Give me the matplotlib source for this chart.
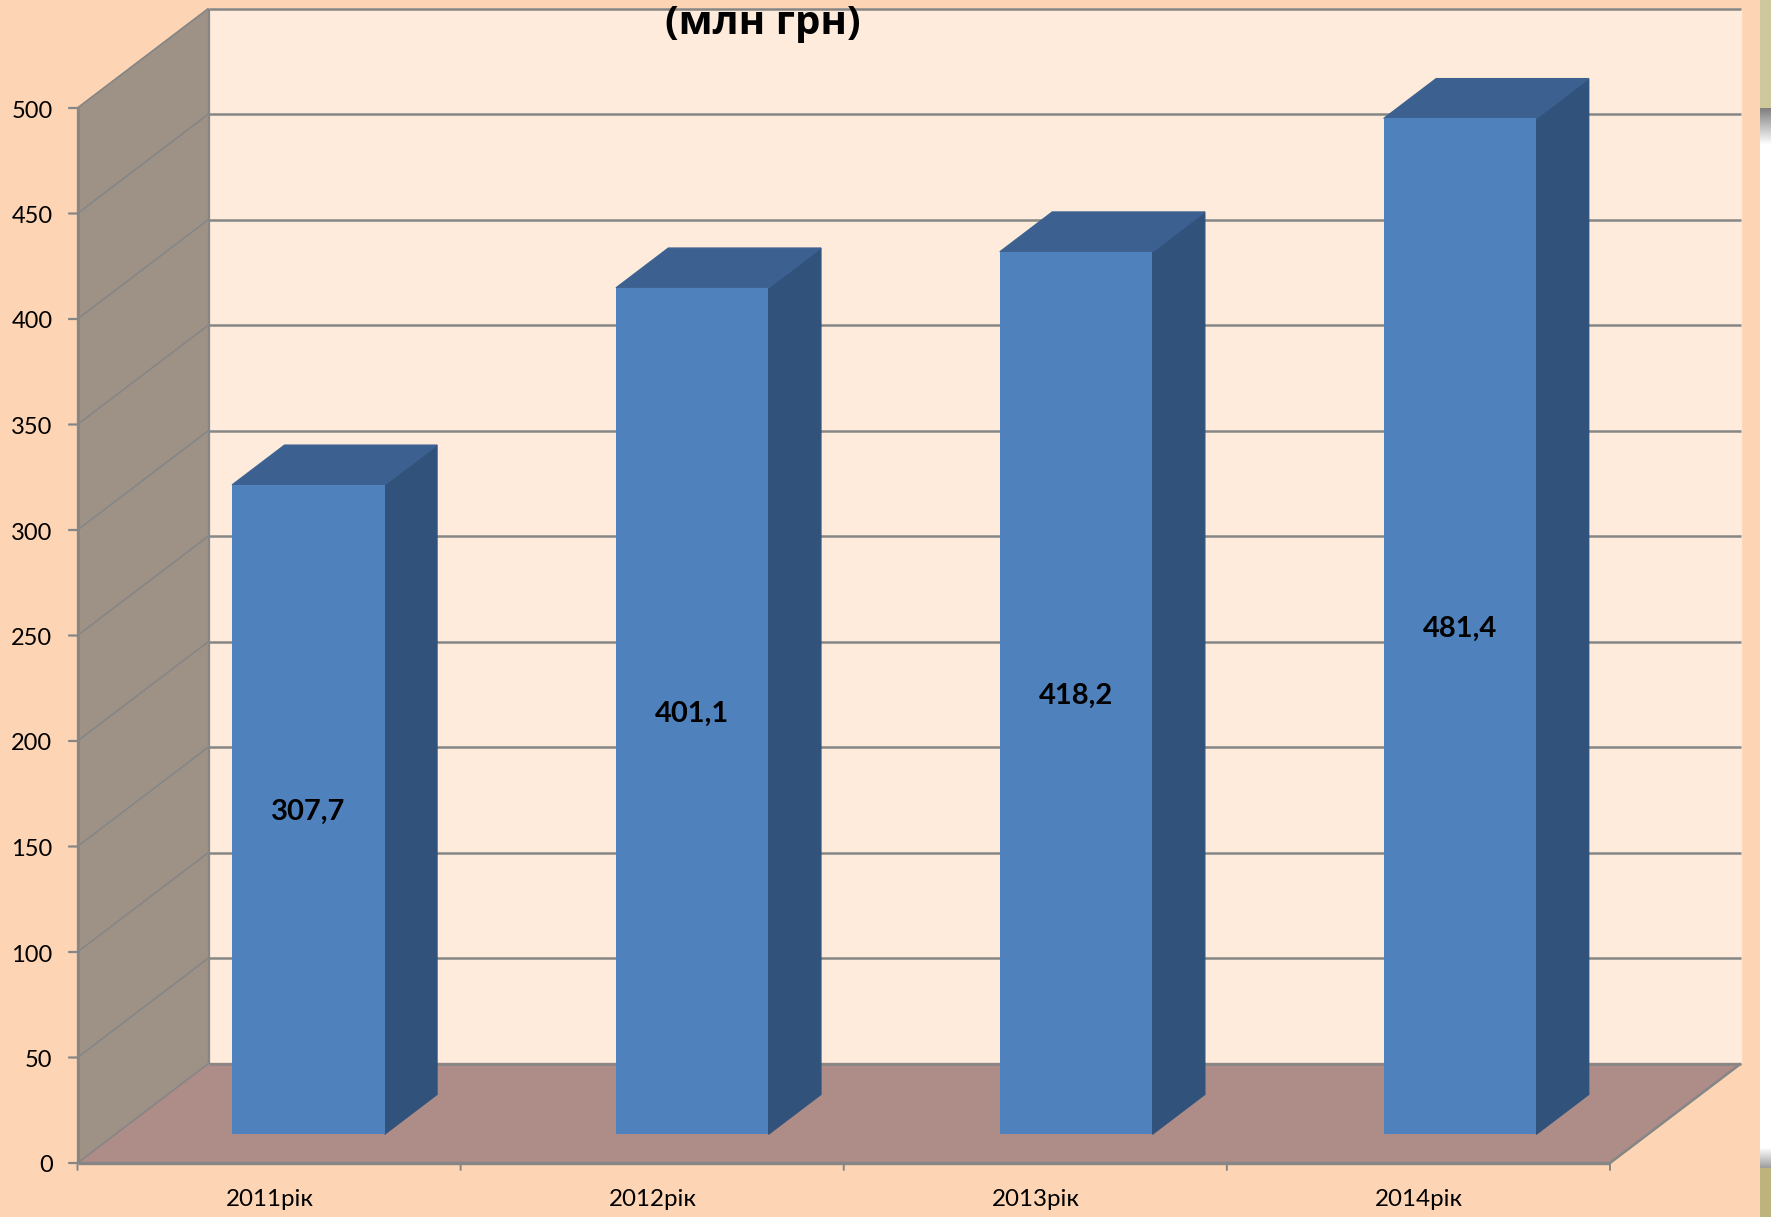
import numpy as np
import matplotlib
matplotlib.use('Agg')
import matplotlib.pyplot as plt
from matplotlib.patches import Rectangle

# дані діаграми
categories = ['2011рік', '2012рік', '2013рік', '2014рік']
values = [307.7, 401.1, 418.2, 481.4]
value_labels = ['307,7', '401,1', '418,2', '481,4']
y_ticks = [0, 50, 100, 150, 200, 250, 300, 350, 400, 450, 500]
title = '(млн грн)'

W, H = 1771, 1217
plt.rcParams['font.family'] = ['Lato', 'Noto Sans', 'DejaVu Sans']

PAGE = '#FDD4B4'
BACK = '#FEEBDB'
WALL = '#9E9287'
FLOOR = '#AE8C87'
FRONT = '#4F81BD'
SIDE = '#31527A'
TOP = '#3C6191'
GRID = '#868686'

fig = plt.figure(figsize=(W / 100, H / 100), dpi=100, facecolor='white')
# сторінка і смужка справа
fig.patches.append(Rectangle((0, 0), 1760 / W, 1, transform=fig.transFigure, facecolor=PAGE, edgecolor='none', zorder=-5))

strip = fig.add_axes([1760 / W, 0, 11 / W, 1])
strip.axis('off')
strip.set_xlim(0, 1)
strip.set_ylim(H, 0)
strip.add_patch(Rectangle((0, 0), 1, 108, facecolor='#CEC89C', edgecolor='none'))
strip.add_patch(Rectangle((0, 1168), 1, 49, facecolor='#BDB37C', edgecolor='none'))
strip.imshow(np.linspace(0.5, 1, 40).reshape(-1, 1), cmap='gray', vmin=0, vmax=1, aspect='auto', extent=(0, 1, 145, 108))
strip.imshow(np.linspace(1, 0.62, 21).reshape(-1, 1), cmap='gray', vmin=0, vmax=1, aspect='auto', extent=(0, 1, 1168, 1147))
strip.set_xlim(0, 1)
strip.set_ylim(H, 0)

# передня площина: категорії по x, значення по y
ax = fig.add_axes([77.5 / W, (H - 1163) / H, 1532.5 / W, 1055 / H])
ax.set_xlim(0, 4)
ax.set_ylim(0, 500)
ax.axis('off')

# зсув глибини у координатах даних
dx = 131 / (1532.5 / 4)
dy = 99.5 / (1055 / 500)


def poly(points, **kw):
    xs = [p[0] + p[2] * dx for p in points]
    ys = [p[1] + p[2] * dy for p in points]
    ax.fill(xs, ys, clip_on=False, edgecolor='none', **kw)


def line(p, q, lw=1.6):
    ax.plot([p[0] + p[2] * dx, q[0] + q[2] * dx], [p[1] + p[2] * dy, q[1] + q[2] * dy],
            color=GRID, lw=lw, clip_on=False, solid_capstyle='butt', zorder=3)


# стіни і підлога
poly([(0, 0, 1), (4, 0, 1), (4, 500, 1), (0, 500, 1)], color=BACK, zorder=1)
poly([(0, 0, 0), (0, 0, 1), (0, 500, 1), (0, 500, 0)], color=WALL, zorder=1)
poly([(0, 0, 0), (4, 0, 0), (4, 0, 1), (0, 0, 1)], color=FLOOR, zorder=1)

for v in y_ticks:
    line((0, v, 0), (0, v, 1), lw=1.2)
    line((0, v, 1), (4, v, 1), lw=1.8)
    ax.annotate(str(v), (0, v), xytext=(-25, -3), textcoords='offset pixels', ha='right', va='center',
                fontsize=17, color='black', annotation_clip=False)
    ax.annotate('', (0, v), xytext=(-8.5, 0), textcoords='offset pixels', annotation_clip=False,
                arrowprops=dict(arrowstyle='-', color=GRID, lw=1.6, shrinkA=0, shrinkB=0))

line((0, 0, 0), (0, 500, 0), lw=2)
line((0, 0, 1), (0, 500, 1), lw=1.6)
line((0, 0, 0), (4, 0, 0), lw=2.4)
line((4, 0, 0), (4, 0, 1), lw=1.8)

for i in range(5):
    ax.annotate('', (i, 0), xytext=(0, -7), textcoords='offset pixels', annotation_clip=False,
                arrowprops=dict(arrowstyle='-', color=GRID, lw=1.4, shrinkA=0, shrinkB=0))

# стовпці
t0, t1 = 0.3, 0.7
for i, (name, v, lab) in enumerate(zip(categories, values, value_labels)):
    a = i + 0.301 + 0.002 * i
    b = a + 0.398
    y0 = t0 * dy - 0.5
    poly([(b, -0.5, t0), (b, -0.5, t1), (b, v - 0.5, t1), (b, v - 0.5, t0)], color=SIDE, zorder=4)
    poly([(a, v - 0.5, t0), (b, v - 0.5, t0), (b, v - 0.5, t1), (a, v - 0.5, t1)], color=TOP, zorder=4)
    ax.bar(a + t0 * dx, v, width=b - a, bottom=y0, align='edge', color=FRONT, clip_on=False, zorder=5)
    ax.text(a + t0 * dx + 0.198, y0 + v / 2 - 1.3, lab, ha='center', va='center', fontsize=21,
            fontweight='bold', color='black', zorder=6)
    ax.annotate(name, (i + 0.5, 0), xytext=(1, -37), textcoords='offset pixels', ha='center', va='center',
                fontsize=17.4, color='black', annotation_clip=False)

fig.text(763 / W, 1 - 34 / H, title, ha='center', va='baseline', fontsize=29, fontweight='bold', color='black',
         family=['Open Sans', 'DejaVu Sans'], zorder=10)

fig.savefig('out.png', dpi=100)
